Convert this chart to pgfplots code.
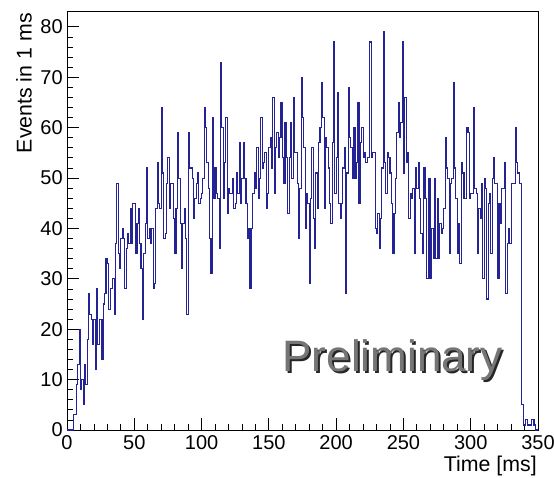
\documentclass[border=0pt]{standalone}
\usepackage{fontspec}
\setmainfont{Liberation Sans}
\usepackage{pgfplots}
\pgfplotsset{compat=1.18}
\usetikzlibrary{calc}
\definecolor{histblue}{RGB}{35,35,150}
\definecolor{prelim}{RGB}{118,118,118}

\begin{document}
\begin{tikzpicture}
\begin{axis}[name=ax, scale only axis, width=353.25pt, height=313.5pt,
  xmin=0, xmax=350, ymin=0, ymax=82.95,
  xtick={0,50,...,350}, ytick={0,10,...,80},
  minor x tick num=4, minor y tick num=4,
  tick pos=left, tick align=inside,
  major tick length=9pt, minor tick length=4.5pt,
  axis line style={black, line width=0.75pt},
  tick style={black, line width=0.6pt},
  /pgf/number format/assume math mode=true,
  tick label style={font=\fontsize{15}{18}\selectfont, inner sep=0pt},
  xticklabel style={anchor=north, yshift=-3.75pt},
  yticklabel style={anchor=east, xshift=-3pt},
  clip=false,
]
\addplot[const plot mark left, histblue, line width=0.8pt, line join=miter] coordinates {
(0,0) (1,0) (2,0) (3,0) (4,0) (5,3) (6,3) (7,9) (8,13) (9,20)
(10,8) (11,10) (12,5) (13,13) (14,9) (15,18) (16,27) (17,23) (18,22) (19,17)
(20,22) (21,12) (22,28) (23,17) (24,22) (25,22) (26,14) (27,25) (28,27) (29,34)
(30,33) (31,24) (32,28) (33,28) (34,30) (35,23) (36,37) (37,49) (38,35) (39,32)
(40,38) (41,40) (42,38) (43,28) (44,36) (45,39) (46,37) (47,44) (48,37) (49,45)
(50,45) (51,35) (52,41) (53,44) (54,37) (55,32) (56,22) (57,35) (58,41) (59,52)
(60,38) (61,40) (62,37) (63,40) (64,28) (65,29) (66,44) (67,53) (68,45) (69,44)
(70,64) (71,51) (72,38) (73,39) (74,49) (75,54) (76,44) (77,49) (78,49) (79,42)
(80,35) (81,44) (82,59) (83,50) (84,41) (85,32) (86,41) (87,44) (88,38) (89,23)
(90,59) (91,52) (92,52) (93,50) (94,42) (95,46) (96,49) (97,51) (98,45) (99,46)
(100,47) (101,50) (102,64) (103,60) (104,53) (105,48) (106,38) (107,31) (108,62) (109,46)
(110,52) (111,47) (112,46) (113,36) (114,73) (115,60) (116,46) (117,53) (118,62) (119,43)
(120,48) (121,47) (122,47) (123,50) (124,44) (125,45) (126,51) (127,47) (128,57) (129,45)
(130,50) (131,57) (132,50) (133,45) (134,38) (135,40) (136,28) (137,40) (138,47) (139,51)
(140,48) (141,56) (142,46) (143,50) (144,62) (145,52) (146,53) (147,55) (148,44) (149,47)
(150,56) (151,58) (152,52) (153,66) (154,47) (155,56) (156,59) (157,54) (158,58) (159,65)
(160,54) (161,49) (162,61) (163,54) (164,43) (165,54) (166,61) (167,50) (168,66) (169,55)
(170,55) (171,49) (172,38) (173,48) (174,70) (175,62) (176,56) (177,40) (178,47) (179,45)
(180,29) (181,46) (182,56) (183,42) (184,36) (185,51) (186,44) (187,57) (188,60) (189,69)
(190,62) (191,44) (192,58) (193,56) (194,52) (195,45) (196,41) (197,57) (198,77) (199,47)
(200,54) (201,67) (202,45) (203,42) (204,45) (205,52) (206,56) (207,27) (208,51) (209,68)
(210,58) (211,56) (212,50) (213,60) (214,50) (215,53) (216,65) (217,45) (218,57) (219,60)
(220,54) (221,55) (222,53) (223,54) (224,54) (225,77) (226,54) (227,55) (228,55) (229,40)
(230,39) (231,43) (232,36) (233,42) (234,52) (235,79) (236,53) (237,47) (238,55) (239,54)
(240,51) (241,45) (242,35) (243,43) (244,50) (245,59) (246,65) (247,58) (248,61) (249,77)
(250,51) (251,66) (252,53) (253,55) (254,42) (255,47) (256,46) (257,48) (258,35) (259,52)
(260,48) (261,53) (262,46) (263,39) (264,35) (265,52) (266,46) (267,30) (268,30) (269,50)
(270,30) (271,40) (272,34) (273,50) (274,34) (275,46) (276,34) (277,41) (278,39) (279,40)
(280,44) (281,58) (282,52) (283,50) (284,35) (285,49) (286,50) (287,69) (288,52) (289,46)
(290,35) (291,41) (292,33) (293,53) (294,51) (295,46) (296,46) (297,60) (298,59) (299,46)
(300,47) (301,47) (302,64) (303,48) (304,47) (305,35) (306,44) (307,42) (308,49) (309,30)
(310,50) (311,48) (312,26) (313,45) (314,47) (315,35) (316,50) (317,54) (318,49) (319,49)
(320,30) (321,45) (322,41) (323,48) (324,48) (325,53) (326,27) (327,37) (328,40) (329,37)
(330,49) (331,49) (332,49) (333,60) (334,53) (335,51) (336,49) (337,49) (338,5) (339,1)
(340,1) (341,2) (342,1) (343,1) (344,1) (345,2) (346,2) (347,1) (348,0) (349,0)
(350,0)
};
\node[anchor=base west, inner sep=0pt, text=black!85, font=\fontsize{33}{38}\selectfont]
  at ([xshift=1.5pt, yshift=-1.5pt]axis cs:160,11.6) {Preliminary};
\node[anchor=base west, inner sep=0pt, text=prelim, font=\fontsize{33}{38}\selectfont]
  at (axis cs:160,11.6) {Preliminary};
\end{axis}
\node[rotate=90, anchor=south east, inner sep=0pt, font=\fontsize{16}{19}\selectfont]
  at ($(ax.north west)+(-26.25pt,-0.75pt)$) {Events in 1 ms};
\node[anchor=base east, inner sep=0pt, font=\fontsize{16}{19}\selectfont]
  at ($(ax.south east)+(-0.75pt,-31pt)$) {Time [ms]};
\pgfresetboundingbox
\path[use as bounding box] ($(ax.south west)+(-50.25pt,-35.25pt)$) rectangle ($(ax.north east)+(12pt,9pt)$);
\end{tikzpicture}
\end{document}
